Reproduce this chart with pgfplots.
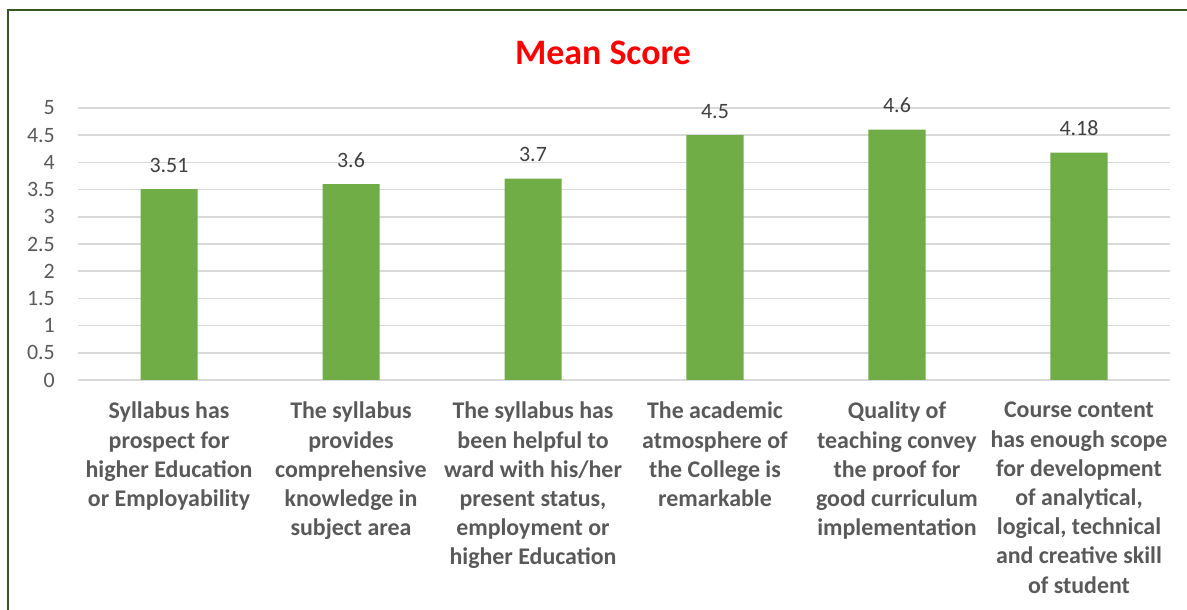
\documentclass[border=0pt]{standalone}
\usepackage{pgfplots}
\pgfplotsset{compat=1.18}
\usepackage{fontspec}
\setmainfont{Carlito}
\definecolor{barg}{HTML}{70AD47}
\definecolor{gridc}{HTML}{D9D9D9}
\definecolor{txt}{HTML}{595959}
\definecolor{lbl}{HTML}{404040}
\definecolor{framec}{HTML}{375623}
\begin{document}
\begin{tikzpicture}[x=1bp,y=1bp]
\useasboundingbox (0,0) rectangle (1187,610);
\draw[framec, line width=2bp] (8,-20) -- (8,599.5) -- (1200,599.5);
\node[anchor=base, text=red, font=\fontsize{36}{42}\selectfont\bfseries] at (603,545) {Mean Score};
\begin{axis}[
  at={(78bp,230bp)}, anchor=south west,
  scale only axis, width=1092bp, height=272bp,
  xmin=-0.5, xmax=5.5, ymin=0, ymax=5,
  ybar, bar width=57bp,
  axis line style={draw=none},
  major tick length=0pt,
  ymajorgrids, grid style={gridc, line width=1.5bp},
  ytick={0,0.5,1,1.5,2,2.5,3,3.5,4,4.5,5},
  xtick={0,1,2,3,4,5},
  /pgf/number format/assume math mode=true,
  yticklabel style={text=txt, font=\fontsize{22}{26}\selectfont, inner sep=0pt, anchor=east, xshift=-23bp},
  xticklabel style={text=txt, font=\fontsize{24}{29.3}\selectfont\bfseries, align=center, anchor=north, inner sep=0pt, yshift=-22bp},
  xticklabels={
    {Syllabus has\\prospect for\\higher Education\\or Employability},
    {The syllabus\\provides\\comprehensive\\knowledge in\\subject area},
    {The syllabus has\\been helpful to\\ward with his/her\\present status,\\employment or\\higher Education},
    {The academic\\atmosphere of\\the College is\\remarkable},
    {Quality of\\teaching convey\\the proof for\\good curriculum\\implementation},
    {Course content\\has enough scope\\for development\\of analytical,\\logical, technical\\and creative skill\\of student}
  },
  nodes near coords,
  every node near coord/.append style={text=lbl, font=\fontsize{22}{26}\selectfont, inner sep=0pt, anchor=south, yshift=16.5bp, /pgf/number format/assume math mode=true},
]
\addplot[fill=barg, draw=none] coordinates {(0,3.51) (1,3.6) (2,3.7) (3,4.5) (4,4.6) (5,4.18)};
\end{axis}
\end{tikzpicture}
\end{document}
